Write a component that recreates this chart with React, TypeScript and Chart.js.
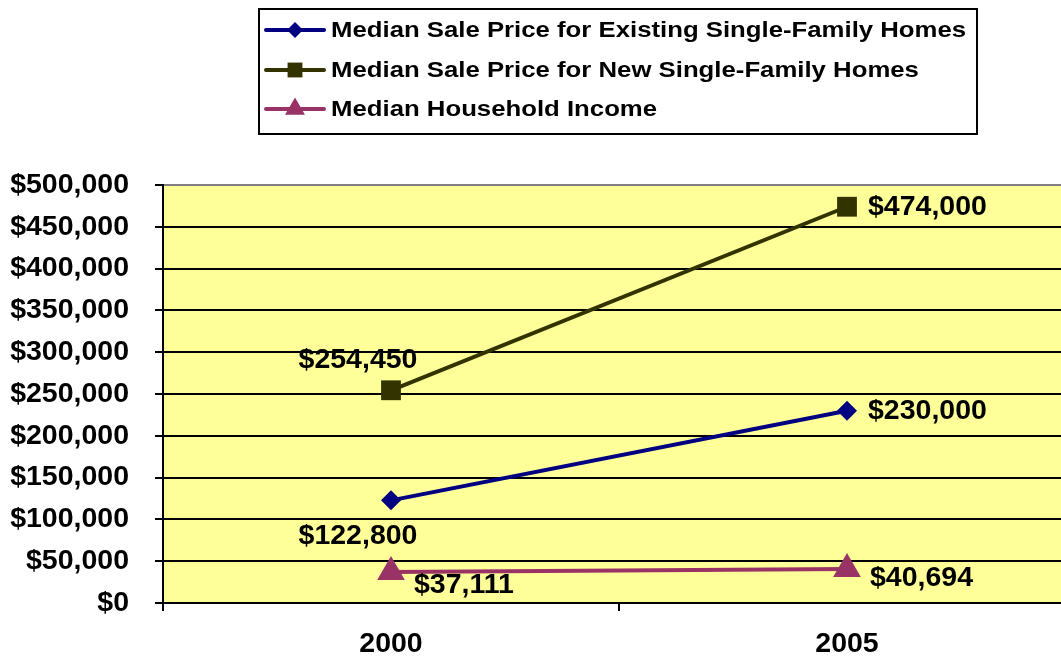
import React, { useEffect, useRef } from "react";
import { Chart, registerables } from "chart.js";
Chart.register(...registerables);

const categories = ["2000", "2005"];
const existingHomePrice = [122800, 230000];
const newHomePrice = [254450, 474000];
const householdIncome = [37111, 40694];
const seriesNames = [
  "Median Sale Price for Existing Single-Family Homes",
  "Median Sale Price for New Single-Family Homes",
  "Median Household Income",
];
const yMin = 0;
const yMax = 500000;
const yStep = 50000;

const FONT = '"Liberation Sans", Arial, Helvetica, sans-serif';
const FS = 28.5;
const colors = ["#000080", "#333300", "#993366"];
const pointStyles = ["rectRot", "rect", "triangle"];
const pointRadii = [10, 14, 16];
const legendRadii = [8, 10.5, 11.5];

// label placement per series / per point (offsets from the point)
const labelPlacement = [
  [{ dx: -33, dy: 36, align: "center" }, { dx: 21, dy: 0, align: "left" }],
  [{ dx: -33, dy: -30, align: "center" }, { dx: 21, dy: 0, align: "left" }],
  [{ dx: 23, dy: 13, align: "left" }, { dx: 23, dy: 9, align: "left" }],
];

const money = (v: number) => "$" + Math.round(v).toLocaleString("en-US");

const plotBg = {
  id: "plotBg",
  beforeDraw(chart: any) {
    const { ctx, chartArea: a } = chart;
    ctx.save();
    ctx.fillStyle = "#FFFF99";
    ctx.fillRect(a.left, a.top, a.right - a.left, a.bottom - a.top);
    ctx.restore();
  },
};

const dataLabels = {
  id: "dataLabels",
  afterDatasetsDraw(chart: any) {
    const { ctx } = chart;
    ctx.save();
    ctx.font = `bold ${FS}px ${FONT}`;
    ctx.fillStyle = "#000";
    ctx.textBaseline = "middle";
    chart.data.datasets.forEach((ds: any, di: number) => {
      const meta = chart.getDatasetMeta(di);
      meta.data.forEach((pt: any, i: number) => {
        const p = labelPlacement[di][i];
        ctx.textAlign = p.align;
        ctx.fillText(money(ds.data[i]), pt.x + p.dx, pt.y + p.dy);
      });
    });
    ctx.restore();
  },
};

const legendBox = {
  id: "legendBox",
  afterDraw(chart: any) {
    const { ctx } = chart;
    ctx.save();
    ctx.strokeStyle = "#000";
    ctx.lineWidth = 2;
    ctx.strokeRect(259, 9, 718, 125);
    const rows = [30, 70, 109];
    chart.data.datasets.forEach((ds: any, di: number) => {
      const y = rows[di];
      ctx.strokeStyle = ds.borderColor;
      ctx.lineWidth = 4;
      ctx.lineCap = "round";
      ctx.beginPath();
      ctx.moveTo(266, y);
      ctx.lineTo(324, y);
      ctx.stroke();
      ctx.fillStyle = ds.borderColor;
      const r = legendRadii[di];
      const x = 295;
      ctx.beginPath();
      if (ds.pointStyle === "rectRot") {
        ctx.moveTo(x, y - r);
        ctx.lineTo(x + r, y);
        ctx.lineTo(x, y + r);
        ctx.lineTo(x - r, y);
      } else if (ds.pointStyle === "rect") {
        const s = r * Math.SQRT1_2;
        ctx.rect(x - s, y - s, 2 * s, 2 * s);
      } else {
        ctx.moveTo(x, y - r);
        ctx.lineTo(x + r * 0.866, y + r * 0.5);
        ctx.lineTo(x - r * 0.866, y + r * 0.5);
      }
      ctx.closePath();
      ctx.fill();
      ctx.fillStyle = "#000";
      ctx.font = `bold 22px ${FONT}`;
      ctx.textBaseline = "middle";
      ctx.textAlign = "left";
      ctx.save();
      ctx.translate(331, y + 1);
      ctx.scale(1.17, 1);
      ctx.fillText(ds.label, 0, 0);
      ctx.restore();
    });
    ctx.restore();
  },
};

export default function App() {
  const ref = useRef<HTMLCanvasElement>(null);
  useEffect(() => {
    if (!ref.current) return;
    const values = [existingHomePrice, newHomePrice, householdIncome];
    const chart = new Chart(ref.current, {
      type: "line",
      data: {
        labels: categories,
        datasets: values.map((d, i) => ({
          label: seriesNames[i],
          data: d,
          borderColor: colors[i],
          backgroundColor: colors[i],
          borderWidth: 4,
          pointStyle: pointStyles[i] as any,
          pointRadius: pointRadii[i],
          pointBackgroundColor: colors[i],
          pointBorderColor: colors[i],
          pointBorderWidth: 0,
          tension: 0,
          fill: false,
        })),
      },
      options: {
        animation: false,
        responsive: false,
        maintainAspectRatio: false,
        devicePixelRatio: 1,
        layout: { autoPadding: false, padding: { left: 0, top: 185, right: 1, bottom: 0 } },
        plugins: {
          legend: { display: false },
          tooltip: { enabled: false },
        },
        scales: {
          x: {
            type: "category",
            offset: true,
            afterFit: (s: any) => {
              s.height = 57;
            },
            grid: {
              offset: true,
              drawOnChartArea: false,
              drawTicks: true,
              tickLength: 8,
              color: "#000",
              lineWidth: 2,
            },
            border: { display: true, color: "#000", width: 2 },
            ticks: {
              font: { family: FONT, size: FS, weight: "bold" },
              color: "#000",
              padding: 16,
            },
          },
          y: {
            min: yMin,
            max: yMax,
            afterFit: (s: any) => {
              s.width = 163;
            },
            grid: {
              color: (c: any) => (c.tick && c.tick.value === yMax ? "#808080" : "#000"),
              tickColor: "#000",
              lineWidth: 2,
              tickLength: 8,
            },
            border: { display: true, color: "#000", width: 2 },
            ticks: {
              stepSize: yStep,
              font: { family: FONT, size: FS, weight: "bold" },
              color: "#000",
              padding: 26,
              callback: (v: any) => money(Number(v)),
            },
          },
        },
      },
      plugins: [plotBg, dataLabels, legendBox],
    });
    return () => chart.destroy();
  }, []);
  return (
    <div
      style={{
        position: "fixed",
        left: 0,
        top: 0,
        width: 1061,
        height: 660,
        overflow: "hidden",
        background: "#fff",
      }}
    >
      <canvas ref={ref} width={1076} height={660} style={{ display: "block" }} />
    </div>
  );
}
